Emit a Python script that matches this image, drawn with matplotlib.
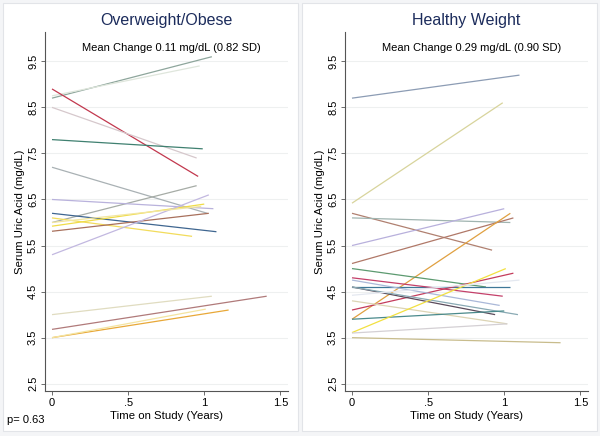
"""Serum uric acid trajectories by weight group (spaghetti plot, two panels)."""

import matplotlib
import numpy as np

matplotlib.use("Agg")
import matplotlib.pyplot as plt  # noqa: E402
from matplotlib.patches import Rectangle  # noqa: E402

plt.rcParams["font.family"] = ["Liberation Sans", "DejaVu Sans"]

# --- data: (x0, y0, x1, y1) per subject ---
obese_x0 = [0, 0, 0, 0, 0, 0, 0, 0, 0, 0, 0, 0, 0, 0, 0, 0, 0, 0]
obese_y0 = [8.7, 8.75, 8.9, 8.5, 7.8, 7.2, 6.0, 6.5, 6.2, 6.1, 5.92, 5.81, 5.3,
            4.0, 3.68, 3.5, 3.5, 6.0]
obese_x1 = [1.05, 0.97, 0.96, 0.95, 0.99, 1.02, 0.95, 1.06, 1.08, 0.92, 1.0,
            1.03, 1.03, 1.05, 1.41, 1.16, 1.01, 0.98]
obese_y1 = [9.6, 9.4, 7.0, 7.4, 7.6, 6.2, 6.8, 6.3, 5.8, 5.7, 6.4, 6.2, 6.6,
            4.4, 4.4, 4.1, 4.12, 6.35]
obese_colors = ["#8ea69c", "#dfe6dc", "#c2384e", "#d6c8cc", "#3f8070", "#a9b1b4",
                "#a6aca6", "#b9b2dc", "#3f6690", "#f2dc5c", "#f0dc48", "#a8705c",
                "#c2b8e0", "#e0dcc0", "#b07a7a", "#e8a838", "#f4e4a0", "#f2e6a0"]

healthy_x0 = [0] * 20
healthy_y0 = [8.7, 6.42, 6.2, 6.1, 5.5, 5.11, 3.9, 5.0, 4.6, 4.8, 4.1, 4.75,
              4.6, 4.6, 4.3, 3.9, 3.61, 3.6, 3.5, 4.42]
healthy_x1 = [1.1, 0.99, 0.92, 1.04, 1.0, 1.06, 1.04, 0.88, 1.04, 0.99, 1.06,
              0.97, 0.94, 1.09, 1.02, 1.0, 1.01, 1.02, 1.37, 1.1]
healthy_y1 = [9.2, 8.6, 5.4, 6.0, 6.3, 6.1, 6.2, 4.6, 4.6, 4.4, 4.9, 4.2, 4.0,
              4.0, 3.8, 4.08, 5.0, 3.8, 3.39, 4.75]
healthy_colors = ["#8c9cb4", "#d8d49c", "#b08070", "#a0b4b0", "#b8b0dc", "#b07868",
                  "#e0a040", "#5c9a70", "#3f7898", "#c4406a", "#c43c5c", "#aab8d8",
                  "#5a4a5a", "#8aaab4", "#dcd4b4", "#4a8a8c", "#f2e040", "#d4d0d4",
                  "#c8bc8c", "#e4e8f0"]

yticks = [2.5, 3.5, 4.5, 5.5, 6.5, 7.5, 8.5, 9.5]
ytick_labels = ["2.5", "3.5", "4.5", "5.5", "6.5", "7.5", "8.5", "9.5"]
xticks = [0, 0.5, 1, 1.5]
xtick_labels = ["0", ".5", "1", "1.5"]

panels = [
    ("Overweight/Obese", "Mean Change 0.11 mg/dL (0.82 SD)",
     obese_x0, obese_y0, obese_x1, obese_y1, obese_colors),
    ("Healthy Weight", "Mean Change 0.29 mg/dL (0.90 SD)",
     healthy_x0, healthy_y0, healthy_x1, healthy_y1, healthy_colors),
]

fig = plt.figure(figsize=(6.0, 4.36), dpi=100)
fig.patch.set_facecolor("#f4f5f7")

# panel frames (Stata graph combine look)
for left in (0.005, 0.503):
    fig.patches.append(Rectangle((left, 0.012), 0.492, 0.98, transform=fig.transFigure,
                                 facecolor="white", edgecolor="#e2e4e8", lw=0.8, zorder=-5))

ax_lefts = [0.075, 0.575]
for (title, note, x0, y0, x1, y1, colors), left in zip(panels, ax_lefts):
    ax = fig.add_axes([left, 0.103, 0.405, 0.824])
    ax.set_zorder(2)
    for a, b, c, d, col in zip(x0, y0, x1, y1, colors):
        ax.plot([a, c], [b, d], color=col, lw=0.9, solid_capstyle="butt")

    ax.set_xlim(-0.046, 1.55)
    ax.set_ylim(2.34, 10.14)
    ax.set_yticks(yticks)
    ax.set_yticklabels(ytick_labels, rotation=90, va="center")
    ax.set_xticks(xticks)
    ax.set_xticklabels(xtick_labels)
    ax.tick_params(labelsize=8, length=3, width=0.6, color="#555555", pad=2)
    for s in ("top", "right"):
        ax.spines[s].set_visible(False)
    for s in ("left", "bottom"):
        ax.spines[s].set_color("#555555")
        ax.spines[s].set_linewidth(0.8)
    ax.grid(axis="y", color="#eef0f0", lw=0.8)
    ax.set_axisbelow(True)
    ax.set_facecolor("none")

    ax.set_ylabel("Serum Uric Acid (mg/dL)", fontsize=8.2, labelpad=2)
    ax.set_xlabel("Time on Study (Years)", fontsize=8.2, labelpad=2)
    ax.text(0.52, 0.968, note, transform=ax.transAxes, ha="center", va="top", fontsize=8)
    ax.set_title(title, fontsize=11.5, color="#1c2c5c", pad=5)

fig.text(0.012, 0.036, "p= 0.63", fontsize=8, ha="left", va="center", zorder=3)

fig.savefig("out.png", dpi=100, facecolor=fig.get_facecolor())
